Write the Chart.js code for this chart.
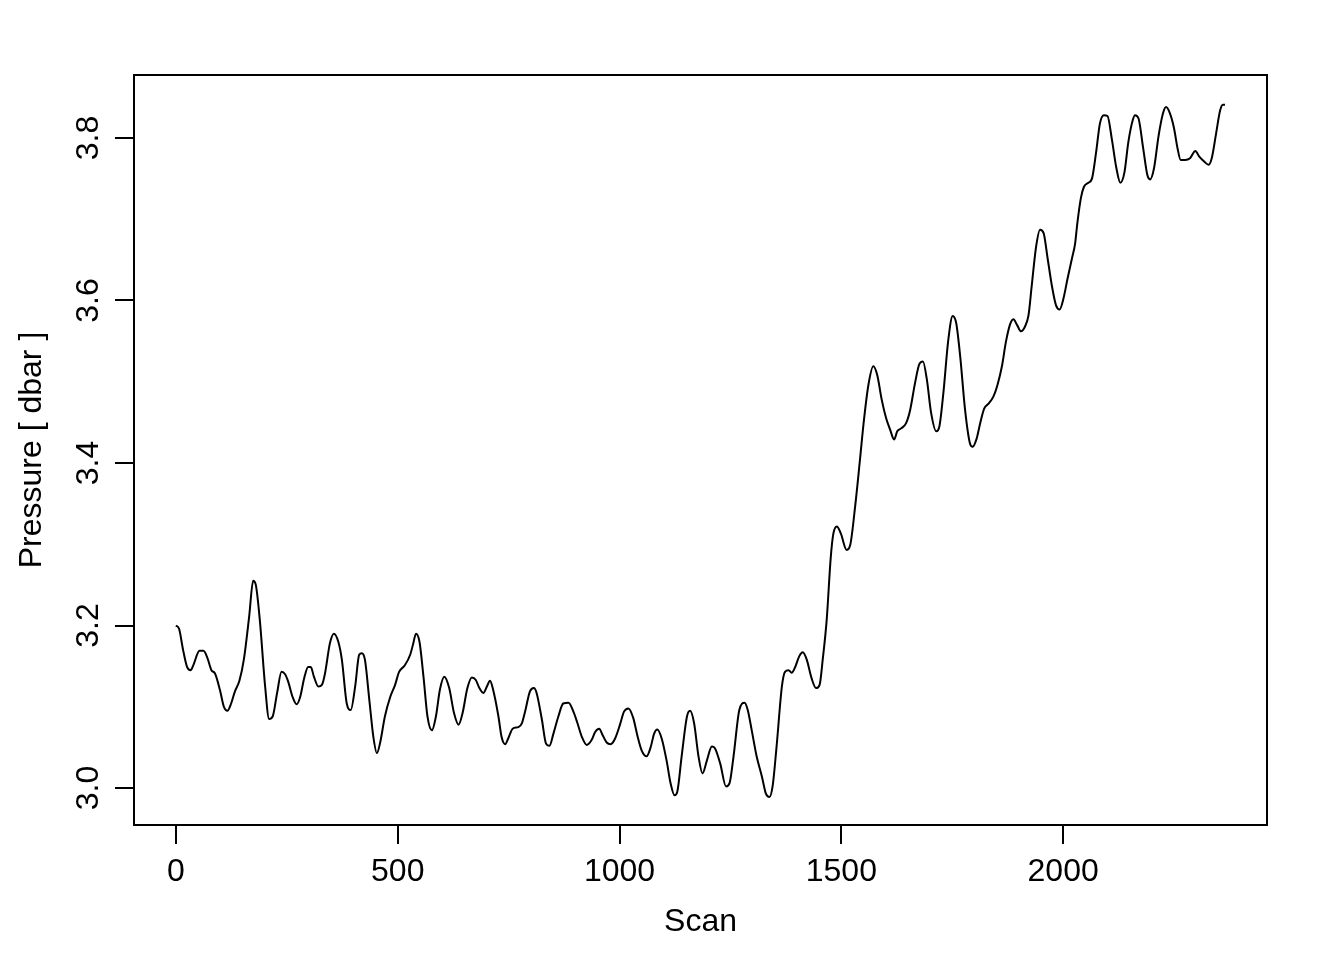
<!DOCTYPE html>
<html>
<head>
<meta charset="utf-8">
<script src="https://cdn.jsdelivr.net/npm/chart.js@4/dist/chart.umd.min.js"></script>
<style>
  html, body { margin: 0; padding: 0; background: #fff; }
  canvas { display: block; }
</style>
</head>
<body>
<canvas id="chart" width="1344" height="960"></canvas>
<script>
// scan index and pressure
const scans = [
  0, 7, 16, 25, 33, 39, 53, 62, 71, 80, 88, 99, 108, 116, 123, 133, 143, 153, 165, 174,
  180, 189, 201, 210, 218, 228, 238, 246, 253, 263, 272, 280, 289, 298, 304, 311, 321, 329, 336, 347,
  356, 366, 374, 385, 394, 404, 413, 419, 426, 436, 445, 453, 460, 471, 483, 494, 503, 516, 528, 535,
  541, 549, 558, 567, 577, 586, 595, 605, 616, 627, 637, 646, 657, 667, 676, 684, 693, 701, 708, 715,
  727, 734, 742, 749, 759, 772, 780, 787, 798, 807, 813, 825, 834, 842, 851, 862, 873, 885, 896, 905,
  915, 926, 937, 945, 954, 962, 971, 980, 990, 1001, 1010, 1020, 1031, 1040, 1050, 1061, 1070, 1078, 1085, 1095,
  1106, 1115, 1124, 1130, 1140, 1152, 1159, 1168, 1178, 1187, 1197, 1208, 1215, 1227, 1240, 1248, 1257, 1270, 1282, 1289,
  1298, 1309, 1321, 1330, 1338, 1345, 1354, 1366, 1373, 1381, 1388, 1396, 1405, 1413, 1422, 1433, 1443, 1451, 1458, 1467,
  1476, 1482, 1490, 1499, 1512, 1520, 1531, 1542, 1551, 1561, 1572, 1581, 1591, 1601, 1610, 1619, 1626, 1636, 1646, 1655,
  1666, 1676, 1684, 1693, 1702, 1714, 1721, 1730, 1741, 1751, 1759, 1768, 1779, 1790, 1796, 1805, 1813, 1822, 1832, 1843,
  1852, 1862, 1871, 1880, 1888, 1896, 1905, 1914, 1922, 1929, 1939, 1948, 1956, 1965, 1975, 1984, 1992, 2001, 2010, 2020,
  2027, 2032, 2040, 2047, 2057, 2065, 2074, 2083, 2092, 2100, 2110, 2120, 2129, 2138, 2147, 2157, 2162, 2170, 2180, 2190,
  2196, 2205, 2215, 2225, 2232, 2241, 2250, 2258, 2265, 2275, 2286, 2298, 2307, 2318, 2328, 2335, 2345, 2354, 2360, 2365
];
const pressures = [
  3.200, 3.196, 3.170, 3.149, 3.145, 3.151, 3.169, 3.169, 3.160, 3.145, 3.141, 3.121, 3.100, 3.095, 3.102, 3.119, 3.132, 3.158, 3.211, 3.255,
  3.250, 3.207, 3.125, 3.085, 3.088, 3.117, 3.143, 3.140, 3.131, 3.112, 3.103, 3.112, 3.135, 3.149, 3.149, 3.137, 3.125, 3.127, 3.141, 3.178,
  3.190, 3.180, 3.158, 3.104, 3.096, 3.125, 3.164, 3.166, 3.158, 3.108, 3.063, 3.043, 3.055, 3.088, 3.112, 3.127, 3.143, 3.151, 3.164, 3.178,
  3.190, 3.180, 3.137, 3.088, 3.071, 3.088, 3.121, 3.137, 3.123, 3.092, 3.078, 3.092, 3.123, 3.136, 3.133, 3.123, 3.117, 3.125, 3.132, 3.121,
  3.088, 3.063, 3.054, 3.061, 3.073, 3.075, 3.080, 3.094, 3.119, 3.123, 3.117, 3.084, 3.055, 3.052, 3.067, 3.088, 3.104, 3.105, 3.094, 3.080,
  3.063, 3.053, 3.059, 3.069, 3.073, 3.065, 3.056, 3.054, 3.061, 3.078, 3.094, 3.098, 3.086, 3.065, 3.046, 3.039, 3.050, 3.067, 3.072, 3.061,
  3.034, 3.006, 2.991, 2.995, 3.039, 3.088, 3.095, 3.080, 3.039, 3.018, 3.034, 3.051, 3.049, 3.030, 3.002, 3.006, 3.039, 3.096, 3.105, 3.096,
  3.071, 3.039, 3.014, 2.993, 2.989, 3.002, 3.051, 3.125, 3.143, 3.145, 3.142, 3.149, 3.162, 3.167, 3.158, 3.135, 3.123, 3.127, 3.158, 3.207,
  3.283, 3.313, 3.322, 3.313, 3.293, 3.299, 3.346, 3.404, 3.453, 3.496, 3.519, 3.508, 3.478, 3.455, 3.441, 3.429, 3.439, 3.443, 3.449, 3.465,
  3.498, 3.522, 3.525, 3.502, 3.463, 3.439, 3.445, 3.486, 3.551, 3.581, 3.572, 3.531, 3.465, 3.424, 3.420, 3.430, 3.449, 3.467, 3.473, 3.482,
  3.496, 3.519, 3.549, 3.570, 3.577, 3.570, 3.562, 3.568, 3.582, 3.617, 3.666, 3.687, 3.683, 3.652, 3.617, 3.594, 3.589, 3.603, 3.627, 3.652,
  3.670, 3.695, 3.726, 3.740, 3.745, 3.750, 3.781, 3.818, 3.828, 3.827, 3.798, 3.763, 3.745, 3.757, 3.795, 3.822, 3.828, 3.824, 3.789, 3.754,
  3.749, 3.763, 3.802, 3.830, 3.838, 3.830, 3.812, 3.787, 3.773, 3.773, 3.775, 3.784, 3.777, 3.771, 3.767, 3.775, 3.806, 3.834, 3.841, 3.841
];

const xTicks = [0, 500, 1000, 1500, 2000];
const yTicks = [3.0, 3.2, 3.4, 3.6, 3.8];
const yTickLabels = ['3.0', '3.2', '3.4', '3.6', '3.8'];
const xTitle = 'Scan';
const yTitle = 'Pressure [ dbar ]';

const points = [];
for (let i = 0; i < scans.length; i++) {
  points.push({ x: scans[i], y: pressures[i] });
}

const FONT = '32px "Liberation Sans", Arial, Helvetica, sans-serif';

// R style box, ticks and labels drawn from the chart's own scales
const baseAxes = {
  id: 'baseAxes',
  afterDraw(chart) {
    const c = chart.ctx;
    const a = chart.chartArea;
    const xs = chart.scales.x;
    const ys = chart.scales.y;
    const tick = 19;
    c.save();
    c.strokeStyle = '#000';
    c.fillStyle = '#000';
    c.lineWidth = 2;
    c.strokeRect(a.left, a.top, a.right - a.left, a.bottom - a.top);

    c.font = FONT;
    c.textAlign = 'center';
    c.textBaseline = 'middle';

    // x axis
    c.beginPath();
    xTicks.forEach(v => {
      const px = Math.round(xs.getPixelForValue(v));
      c.moveTo(px, a.bottom);
      c.lineTo(px, a.bottom + tick);
    });
    c.stroke();
    xTicks.forEach(v => {
      c.fillText(String(v), xs.getPixelForValue(v), a.bottom + 47);
    });
    c.fillText(xTitle, (a.left + a.right) / 2, a.bottom + 97);

    // y axis
    c.beginPath();
    yTicks.forEach(v => {
      const py = Math.round(ys.getPixelForValue(v));
      c.moveTo(a.left, py);
      c.lineTo(a.left - tick, py);
    });
    c.stroke();
    yTicks.forEach((v, i) => {
      c.save();
      c.translate(a.left - 45, ys.getPixelForValue(v));
      c.rotate(-Math.PI / 2);
      c.fillText(yTickLabels[i], 0, 0);
      c.restore();
    });
    c.save();
    c.translate(a.left - 102, (a.top + a.bottom) / 2);
    c.rotate(-Math.PI / 2);
    c.fillText(yTitle, 0, 0);
    c.restore();
    c.restore();
  }
};

new Chart(document.getElementById('chart').getContext('2d'), {
  type: 'line',
  data: {
    datasets: [{
      data: points,
      borderColor: '#000',
      borderWidth: 2,
      pointRadius: 0,
      fill: false,
      cubicInterpolationMode: 'monotone'
    }]
  },
  options: {
    responsive: false,
    animation: false,
    devicePixelRatio: 1,
    layout: {
      padding: { left: 134, right: 77, top: 75, bottom: 135 }
    },
    plugins: {
      legend: { display: false },
      tooltip: { enabled: false }
    },
    scales: {
      x: { type: 'linear', min: -94.6, max: 2459.6, display: false },
      y: { type: 'linear', min: 2.9545, max: 3.8775, display: false }
    }
  },
  plugins: [baseAxes]
});
</script>
</body>
</html>
